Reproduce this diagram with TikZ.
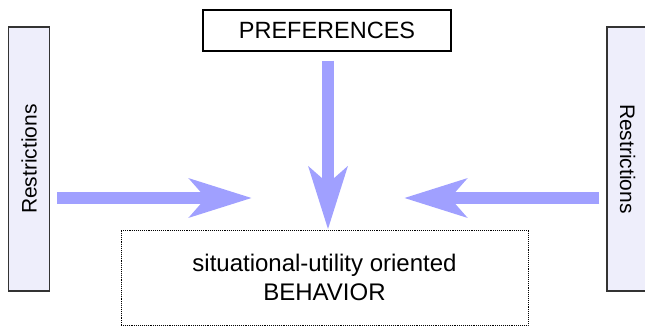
\documentclass[tikz,border=0pt]{standalone}
\usepackage{fontspec}
\setmainfont{Liberation Sans}
\usetikzlibrary{arrows.meta}

\definecolor{flowblue}{RGB}{160,160,255}
\definecolor{restrfill}{RGB}{238,238,251}

\begin{document}
\begin{tikzpicture}[x=1pt,y=-1pt,
   restr/.style={draw=black!80,line width=1.2pt,fill=restrfill,minimum width=264pt,minimum height=41pt,inner sep=0pt,font=\fontsize{21}{25}\selectfont},
   prefbox/.style={draw=black,line width=1.2pt,minimum width=248pt,minimum height=41pt,inner sep=0pt,font=\fontsize{23.5}{27}\selectfont},
   behbox/.style={draw=black,densely dotted,line width=0.9pt,minimum width=407pt,minimum height=95pt,inner sep=0pt,align=center,font=\fontsize{24}{29}\selectfont},
   flow/.style={draw=flowblue,line width=12pt,-{Stealth[length=62pt,width=38pt,inset=16pt]}}]
   \useasboundingbox (0,0) rectangle (645,326);
   \node[restr,rotate=90] (restrL) at (29,159) {Restrictions};
   \node[restr,rotate=-90] (restrR) at (627.5,159) {Restrictions};
   \node[prefbox] (pref) at (327,30.5) {PREFERENCES};
   \node[behbox] (beh) at (324.5,277.5) {situational-utility oriented\\BEHAVIOR};
   \coordinate (tipL) at (252,198);
   \coordinate (tipR) at (404,198);
   \draw[flow] (restrL.south |- tipL) ++(7,0) -- (tipL);
   \draw[flow] (restrR.south |- tipR) ++(-7,0) -- (tipR);
   \draw[flow] (pref.south) ++(1,9) -- (beh.north -| 328,0);
\end{tikzpicture}
\end{document}
